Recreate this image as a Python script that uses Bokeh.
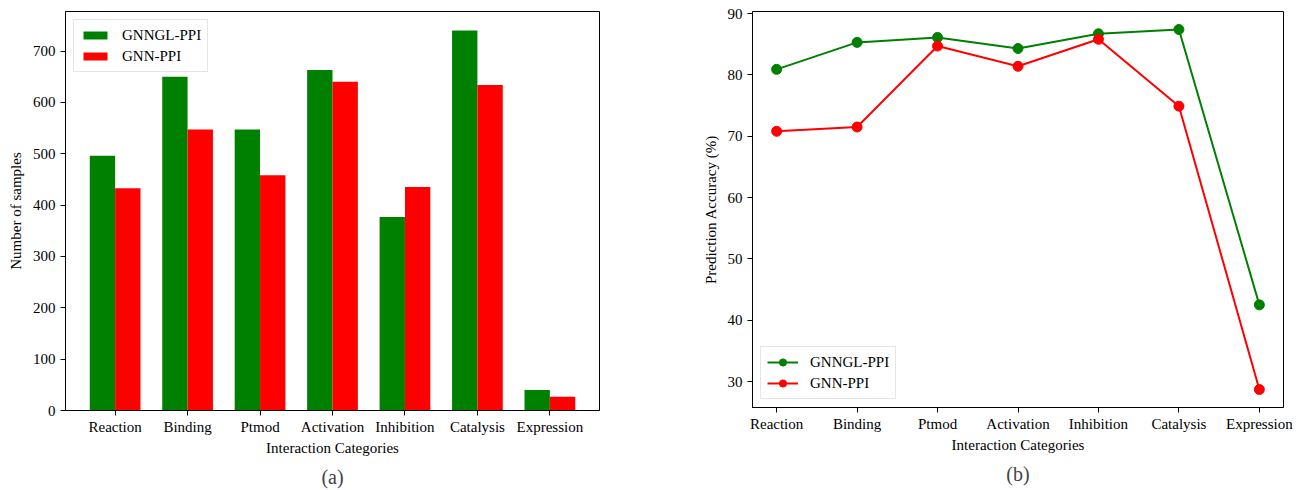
from bokeh.plotting import figure
from bokeh.layouts import row
from bokeh.models import Range1d, FixedTicker, Legend, LegendItem, Title, ColumnDataSource
from bokeh.transform import dodge
from bokeh.embed import file_html
from bokeh.resources import INLINE

categories = ["Reaction", "Binding", "Ptmod", "Activation", "Inhibition", "Catalysis", "Expression"]
samples_gnngl = [496, 650, 547, 663, 377, 740, 40]
samples_gnn = [433, 547, 458, 640, 435, 634, 27]
acc_gnngl = [80.9, 85.3, 86.1, 84.3, 86.7, 87.4, 42.5]
acc_gnn = [70.8, 71.5, 84.7, 81.4, 85.8, 74.9, 28.7]
series_names = ["GNNGL-PPI", "GNN-PPI"]
y_ticks_left = [0, 100, 200, 300, 400, 500, 600, 700]
y_ticks_right = [30, 40, 50, 60, 70, 80, 90]

FONT = "Liberation Serif"
FS = "15px"
GREEN = "#008000"
RED = "#ff0000"
idx = list(range(len(categories)))


def style(p, yticks):
    p.outline_line_color = "black"
    p.outline_line_width = 1
    p.xgrid.visible = False
    p.ygrid.visible = False
    p.xaxis.ticker = FixedTicker(ticks=idx)
    p.xaxis.major_label_overrides = {i: c for i, c in enumerate(categories)}
    p.yaxis.ticker = FixedTicker(ticks=yticks)
    for ax in (p.xaxis[0], p.yaxis[0]):
        ax.axis_line_color = "black"
        ax.major_tick_line_color = "black"
        ax.major_tick_in = 0
        ax.major_tick_out = 5
        ax.minor_tick_line_color = None
        ax.major_label_text_font = FONT
        ax.major_label_text_font_size = FS
        ax.major_label_text_color = "black"
        ax.axis_label_text_font = FONT
        ax.axis_label_text_font_size = FS
        ax.axis_label_text_font_style = "normal"
        ax.axis_label_text_color = "black"
    p.xaxis.major_label_standoff = 3
    p.xaxis.axis_label_standoff = 2
    p.yaxis.major_label_standoff = 5
    p.yaxis.axis_label_standoff = 6


def style_legend(lg):
    lg.label_text_font = FONT
    lg.label_text_font_size = FS
    lg.label_text_color = "black"
    lg.border_line_color = "#cccccc"
    lg.border_line_width = 1
    lg.background_fill_alpha = 0.8
    lg.padding = 6
    lg.spacing = 3
    lg.margin = 8
    lg.label_standoff = 12
    lg.label_height = 18


# ---------- (a) bar chart ----------
src = ColumnDataSource(dict(x=idx, g=samples_gnngl, r=samples_gnn))
ymax = max(max(samples_gnngl), max(samples_gnn)) * 1.05
p1 = figure(frame_width=534, frame_height=399,
            min_border_left=65, min_border_right=51, min_border_top=11, min_border_bottom=72,
            x_range=Range1d(-0.685, 6.685), y_range=Range1d(0, ymax),
            output_backend="svg", toolbar_location=None)
b1 = p1.vbar(x=dodge("x", -0.175), top="g", width=0.35, bottom=0, source=src,
             fill_color=GREEN, line_color=None)
b2 = p1.vbar(x=dodge("x", 0.175), top="r", width=0.35, bottom=0, source=src,
             fill_color=RED, line_color=None)
style(p1, y_ticks_left)
p1.xaxis.axis_label = "Interaction Categories"
p1.yaxis.axis_label = "Number of samples"
lg1 = Legend(items=[LegendItem(label=series_names[0], renderers=[b1]),
                    LegendItem(label=series_names[1], renderers=[b2])],
             location="top_left")
style_legend(lg1)
lg1.glyph_width = 30
lg1.glyph_height = 10
p1.add_layout(lg1, "center")
p1.add_layout(Title(text="(a)", align="center", text_font=FONT, text_font_size="20px",
                    text_font_style="normal", offset=-9), "below")

# ---------- (b) line chart ----------
allv = acc_gnngl + acc_gnn
lo, hi = min(allv), max(allv)
span = hi - lo
p2 = figure(frame_width=531, frame_height=396,
            min_border_left=102, min_border_right=10, min_border_top=11, min_border_bottom=75,
            x_range=Range1d(-0.3, 6.3), y_range=Range1d(lo - 0.05 * span, hi + 0.05 * span),
            output_backend="svg", toolbar_location=None)
l1 = p2.line(idx, acc_gnngl, line_color=GREEN, line_width=2)
s1 = p2.scatter(idx, acc_gnngl, size=10, fill_color=GREEN, line_color=GREEN)
l2 = p2.line(idx, acc_gnn, line_color=RED, line_width=2)
s2 = p2.scatter(idx, acc_gnn, size=10, fill_color=RED, line_color=RED)
style(p2, y_ticks_right)
p2.xaxis.axis_label = "Interaction Categories"
p2.yaxis.axis_label = "Prediction Accuracy (%)"
lg2 = Legend(items=[LegendItem(label=series_names[0], renderers=[l1, s1]),
                    LegendItem(label=series_names[1], renderers=[l2, s2])],
             location="bottom_left")
style_legend(lg2)
lg2.glyph_width = 31
lg2.glyph_height = 18
p2.add_layout(lg2, "center")
p2.add_layout(Title(text="(b)", align="center", text_font=FONT, text_font_size="20px",
                    text_font_style="normal", offset=-8), "below")

layout = row(p1, p2)
open("out.html", "w").write(file_html(layout, INLINE))
